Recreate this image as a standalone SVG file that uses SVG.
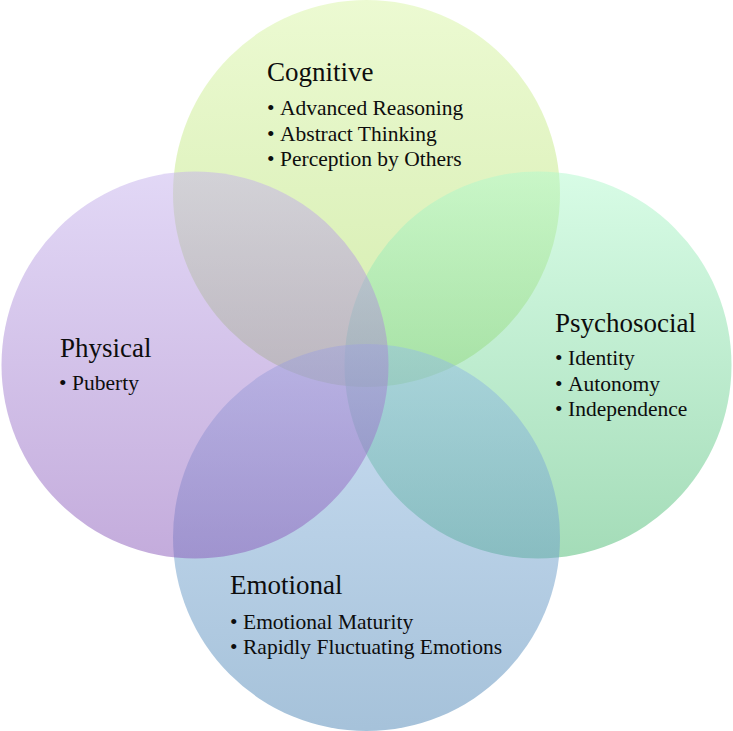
<svg xmlns="http://www.w3.org/2000/svg" width="733" height="731" viewBox="0 0 733 731">
  <defs>
    <linearGradient id="gCog" x1="0" y1="0" x2="0" y2="1">
      <stop offset="0" stop-color="#d9f5a5"/>
      <stop offset="1" stop-color="#a9d95d"/>
    </linearGradient>
    <linearGradient id="gPsy" x1="0" y1="0" x2="0" y2="1">
      <stop offset="0" stop-color="#b1f9cd"/>
      <stop offset="1" stop-color="#49b971"/>
    </linearGradient>
    <linearGradient id="gEmo" x1="0" y1="0" x2="0" y2="1">
      <stop offset="0" stop-color="#95bde5"/>
      <stop offset="1" stop-color="#4d85b5"/>
    </linearGradient>
    <linearGradient id="gPhy" x1="0" y1="0" x2="0" y2="1">
      <stop offset="0" stop-color="#c5b1ed"/>
      <stop offset="1" stop-color="#8959b9"/>
    </linearGradient>
  </defs>
  <style>
    .c { fill-opacity: 0.5; stroke: none; }
    .t { font-family: "Liberation Serif", "Times New Roman", serif; font-size: 27px; fill: #0d0d0d; }
    .b { font-family: "Liberation Serif", "Times New Roman", serif; font-size: 21.5px; fill: #0d0d0d; }
  </style>
  <rect width="733" height="731" fill="#ffffff"/>
  <g id="connectors"/>
  <g id="cognitive">
    <circle class="c" cx="366.5" cy="193.5" r="193.5" fill="url(#gCog)"/>
    <text class="t" x="267" y="81">Cognitive</text>
    <text class="b" x="267" y="115">•</text><text class="b" x="280" y="115">Advanced Reasoning</text>
    <text class="b" x="267" y="140.5">•</text><text class="b" x="280" y="140.5">Abstract Thinking</text>
    <text class="b" x="267" y="166">•</text><text class="b" x="280" y="166">Perception by Others</text>
  </g>
  <g id="psychosocial">
    <circle class="c" cx="538" cy="365" r="193.5" fill="url(#gPsy)"/>
    <text class="t" x="555" y="332">Psychosocial</text>
    <text class="b" x="555" y="365">•</text><text class="b" x="568" y="365">Identity</text>
    <text class="b" x="555" y="390.5">•</text><text class="b" x="568" y="390.5">Autonomy</text>
    <text class="b" x="555" y="416">•</text><text class="b" x="568" y="416">Independence</text>
  </g>
  <g id="emotional">
    <circle class="c" cx="366.5" cy="537.5" r="193.5" fill="url(#gEmo)"/>
    <text class="t" x="230" y="594">Emotional</text>
    <text class="b" x="230" y="628.5">•</text><text class="b" x="243" y="628.5">Emotional Maturity</text>
    <text class="b" x="230" y="654">•</text><text class="b" x="243" y="654">Rapidly Fluctuating Emotions</text>
  </g>
  <g id="physical">
    <circle class="c" cx="195" cy="365" r="193.5" fill="url(#gPhy)"/>
    <text class="t" x="60" y="357">Physical</text>
    <text class="b" x="59" y="390">•</text><text class="b" x="72" y="390">Puberty</text>
  </g>
</svg>
